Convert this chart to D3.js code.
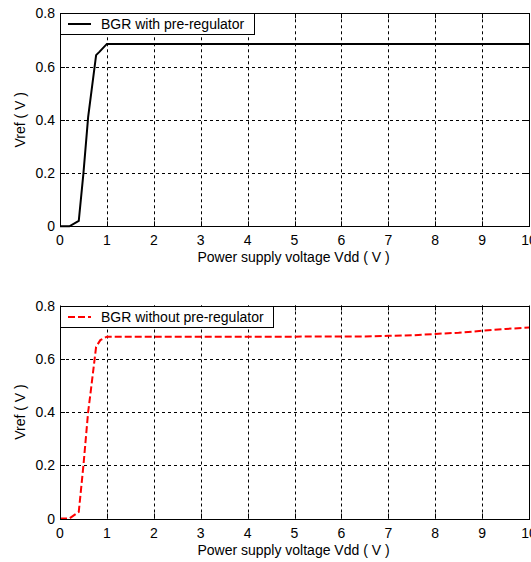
<!DOCTYPE html>
<html>
<head>
<meta charset="utf-8">
<script src="https://cdn.jsdelivr.net/npm/d3@7"></script>
<style>
  body { margin: 0; background: #fff; }
  svg { display: block; }
  text { font-family: "Liberation Sans", Arial, sans-serif; font-size: 14px; fill: #000; }
</style>
</head>
<body>
<div id="chart"></div>
<script>
// data
var vddWith = [0, 0.2, 0.4, 0.5, 0.6, 0.77, 0.84, 1.0, 2, 3, 4, 5, 6, 7, 8, 9, 10];
var vrefWith = [0, 0, 0.02, 0.2, 0.41, 0.643, 0.655, 0.685, 0.685, 0.685, 0.685, 0.685, 0.685, 0.685, 0.685, 0.685, 0.685];

var vddWithout = [0, 0.2, 0.4, 0.5, 0.6, 0.65, 0.77, 0.86, 1.0, 2, 3, 4, 5, 6, 6.5, 7, 7.5, 8, 8.5, 9, 9.5, 10];
var vrefWithout = [0, 0, 0.025, 0.2, 0.4, 0.47, 0.645, 0.67, 0.683, 0.683, 0.683, 0.683, 0.683, 0.684, 0.684, 0.686, 0.688, 0.693, 0.698, 0.705, 0.712, 0.717];

var xTicks = [0, 1, 2, 3, 4, 5, 6, 7, 8, 9, 10];
var yTicks = [0, 0.2, 0.4, 0.6, 0.8];
var legendNames = ["BGR with pre-regulator", "BGR without pre-regulator"];
var xTitle = "Power supply voltage Vdd ( V )";
var yTitle = "Vref ( V )";

var width = 531, height = 562,
    left = 60, right = 529,
    panelTops = [13.3, 305.5],
    panelHeight = 213,
    tickLen = 5,
    legendHeight = 21,
    legendWidths = [194, 213];

var svg = d3.select("#chart").append("svg")
  .attr("width", width)
  .attr("height", height);

var x = d3.scaleLinear().domain([0, 10]).range([left, right]);

var panels = [
  { xs: vddWith, ys: vrefWith, color: "#000", dash: null },
  { xs: vddWithout, ys: vrefWithout, color: "#ff0000", dash: "7,3" }
];

panels.forEach(function(p, k) {
  var top = panelTops[k], bottom = top + panelHeight;
  var y = d3.scaleLinear().domain([0, 0.8]).range([bottom, top]);
  var g = svg.append("g");

  // grid
  g.selectAll("line.vgrid")
    .data(xTicks.slice(1, -1))
    .enter().append("line")
    .attr("x1", function(d) { return Math.round(x(d)) + 0.5; })
    .attr("x2", function(d) { return Math.round(x(d)) + 0.5; })
    .attr("y1", top).attr("y2", bottom)
    .attr("stroke", "#000").attr("stroke-width", 1)
    .attr("stroke-dasharray", "3,3");
  g.selectAll("line.hgrid")
    .data(yTicks.slice(1, -1))
    .enter().append("line")
    .attr("y1", function(d) { return Math.round(y(d)) + 0.5; })
    .attr("y2", function(d) { return Math.round(y(d)) + 0.5; })
    .attr("x1", left).attr("x2", right)
    .attr("stroke", "#000").attr("stroke-width", 1)
    .attr("stroke-dasharray", "3,3");

  // tick marks on all sides
  xTicks.forEach(function(t) {
    var px = Math.round(x(t)) + 0.5;
    g.append("line").attr("x1", px).attr("x2", px).attr("y1", bottom).attr("y2", bottom - tickLen).attr("stroke", "#000");
    g.append("line").attr("x1", px).attr("x2", px).attr("y1", top).attr("y2", top + tickLen).attr("stroke", "#000");
  });
  yTicks.forEach(function(t) {
    var py = Math.round(y(t)) + 0.5;
    g.append("line").attr("x1", left).attr("x2", left + tickLen).attr("y1", py).attr("y2", py).attr("stroke", "#000");
    g.append("line").attr("x1", right).attr("x2", right - tickLen).attr("y1", py).attr("y2", py).attr("stroke", "#000");
  });

  // data line
  var pts = p.xs.map(function(v, i) { return [v, p.ys[i]]; });
  g.append("path")
    .datum(pts)
    .attr("d", d3.line().x(function(d) { return x(d[0]); }).y(function(d) { return y(d[1]); }))
    .attr("fill", "none")
    .attr("stroke", p.color)
    .attr("stroke-width", 2)
    .attr("stroke-dasharray", p.dash);

  // box
  g.append("rect")
    .attr("x", left + 0.5).attr("y", Math.round(top) + 0.5)
    .attr("width", right - left).attr("height", Math.round(panelHeight))
    .attr("fill", "none").attr("stroke", "#000");

  // tick labels
  g.selectAll("text.xt")
    .data(xTicks)
    .enter().append("text")
    .attr("x", function(d) { return x(d); })
    .attr("y", bottom + 19)
    .attr("text-anchor", "middle")
    .text(function(d) { return d; });
  g.selectAll("text.yt")
    .data(yTicks)
    .enter().append("text")
    .attr("x", left - 5)
    .attr("y", function(d) { return y(d) + 5; })
    .attr("text-anchor", "end")
    .text(function(d) { return d; });

  // titles
  g.append("text")
    .attr("x", (left + right) / 2 - 1)
    .attr("y", bottom + 36)
    .attr("text-anchor", "middle")
    .text(xTitle);
  g.append("text")
    .attr("transform", "translate(25," + ((top + bottom) / 2) + ") rotate(-90)")
    .attr("text-anchor", "middle")
    .text(yTitle);

  // legend
  var ly = Math.round(top) + 0.5;
  g.append("rect")
    .attr("x", left + 0.5).attr("y", ly)
    .attr("width", legendWidths[k]).attr("height", legendHeight)
    .attr("fill", "#fff").attr("stroke", "#000");
  g.append("line")
    .attr("x1", left + 8).attr("x2", left + 31)
    .attr("y1", ly + legendHeight / 2).attr("y2", ly + legendHeight / 2)
    .attr("stroke", p.color).attr("stroke-width", 2)
    .attr("stroke-dasharray", p.dash);
  g.append("text")
    .attr("x", left + 41)
    .attr("y", ly + legendHeight / 2 + 5)
    .text(legendNames[k]);
});
</script>
</body>
</html>
